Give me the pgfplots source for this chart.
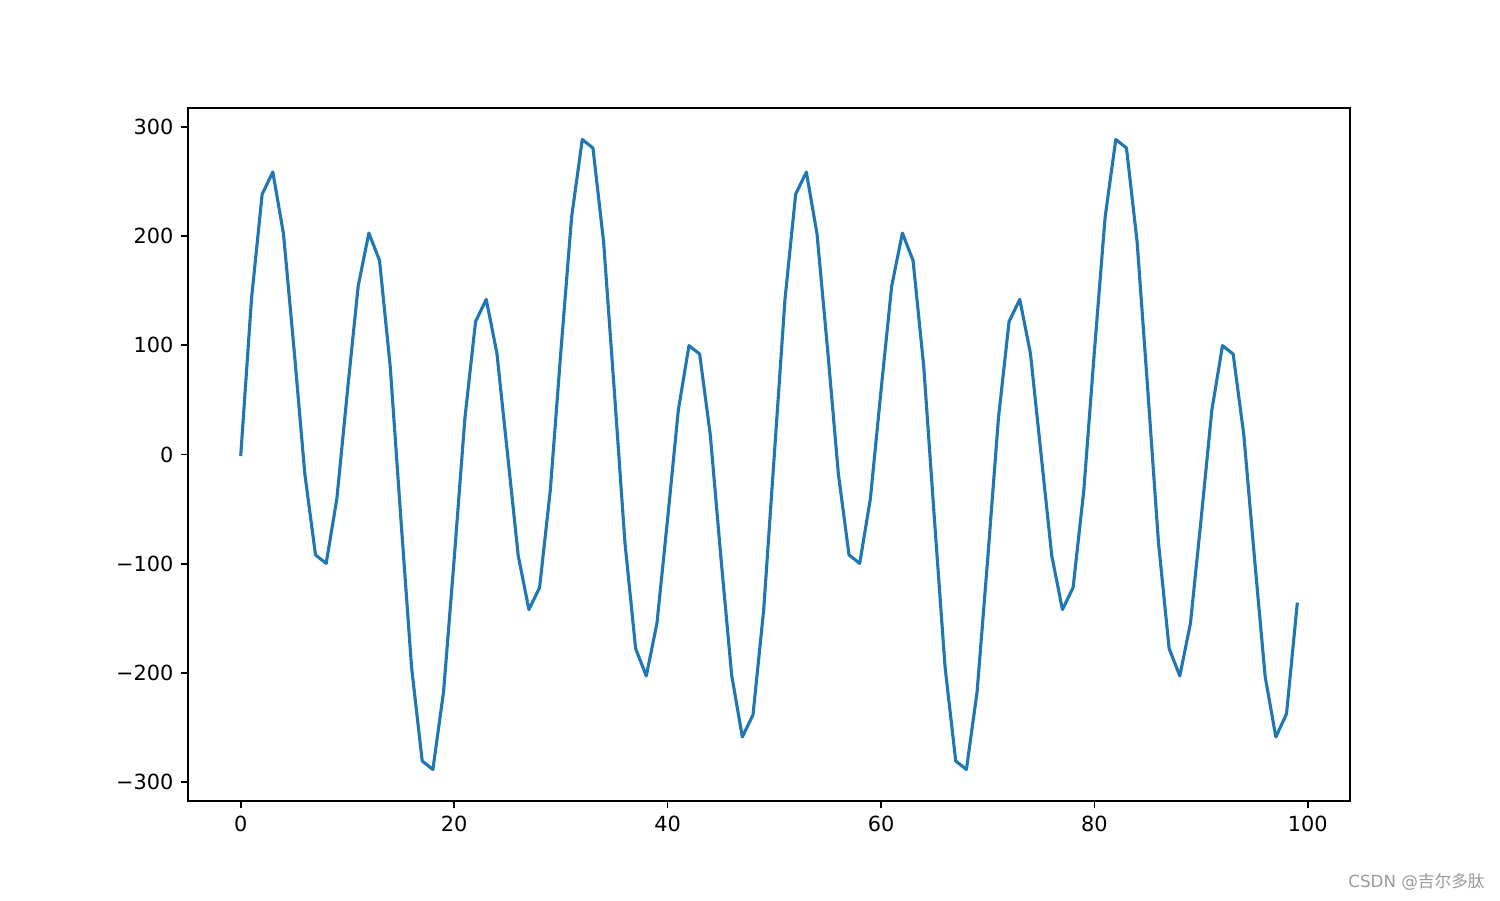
\documentclass[border=0pt]{standalone}
\usepackage{pgfplots}
\pgfplotsset{compat=1.18}
\usepackage{fontspec}
\setmainfont{DejaVu Sans}
\newfontfamily\cjk{Noto Sans CJK SC}
\definecolor{mplblue}{HTML}{1F77B4}
\begin{document}
\begin{tikzpicture}
\useasboundingbox (0,0) rectangle (720pt,432pt);
\begin{axis}[
  at={(90.24pt,47.52pt)}, anchor=south west,
  scale only axis, width=557.76pt, height=332.64pt,
  xmin=-4.95, xmax=103.95, ymin=-317.28, ymax=317.28,
  xtick={0,20,40,60,80,100},
  ytick={-300,-200,-100,0,100,200,300},
  yticklabels={−300,−200,−100,0,100,200,300},
  xticklabels={0,20,40,60,80,100},
  tick align=outside, tick pos=left,
  major tick length=3.5pt,
  axis line style={line width=0.8pt},
  every tick/.style={line width=0.8pt, black},
  tick label style={font=\fontsize{10}{12}\selectfont},
  /pgf/number format/assume math mode=true,
]
\addplot[color=mplblue, line width=1.5pt, line join=round, line cap=rect] coordinates {
(0,0) (1,142.43) (2,238.39) (3,258.67) (4,201.99) (5,95.11) (6,-17.75) (7,-91.98) (8,-99.73) (9,-40.51)
(10,58.78) (11,154.37) (12,202.74) (13,177.68) (14,80.75) (15,-58.78) (16,-194.61) (17,-280.69) (18,-288.44) (19,-217.36)
(20,-95.11) (21,33.12) (22,121.76) (23,142.04) (24,92.69) (25,0) (26,-92.69) (27,-142.04) (28,-121.76) (29,-33.12)
(30,95.11) (31,217.36) (32,288.44) (33,280.69) (34,194.61) (35,58.78) (36,-80.75) (37,-177.68) (38,-202.74) (39,-154.37)
(40,-58.78) (41,40.51) (42,99.73) (43,91.98) (44,17.75) (45,-95.11) (46,-201.99) (47,-258.67) (48,-238.39) (49,-142.43)
(50,0) (51,142.43) (52,238.39) (53,258.67) (54,201.99) (55,95.11) (56,-17.75) (57,-91.98) (58,-99.73) (59,-40.51)
(60,58.78) (61,154.37) (62,202.74) (63,177.68) (64,80.75) (65,-58.78) (66,-194.61) (67,-280.69) (68,-288.44) (69,-217.36)
(70,-95.11) (71,33.12) (72,121.76) (73,142.04) (74,92.69) (75,0) (76,-92.69) (77,-142.04) (78,-121.76) (79,-33.12)
(80,95.11) (81,217.36) (82,288.44) (83,280.69) (84,194.61) (85,58.78) (86,-80.75) (87,-177.68) (88,-202.74) (89,-154.37)
(90,-58.78) (91,40.51) (92,99.73) (93,91.98) (94,17.75) (95,-95.11) (96,-203.5) (97,-258.67) (98,-237.5) (99,-137)
};
\end{axis}
\node[anchor=east, inner sep=0pt, text=black!40, font=\fontsize{8}{9}\selectfont] at (712.8pt,8.9pt) {CSDN @{\cjk 吉尔多肽}};
\end{tikzpicture}
\end{document}
